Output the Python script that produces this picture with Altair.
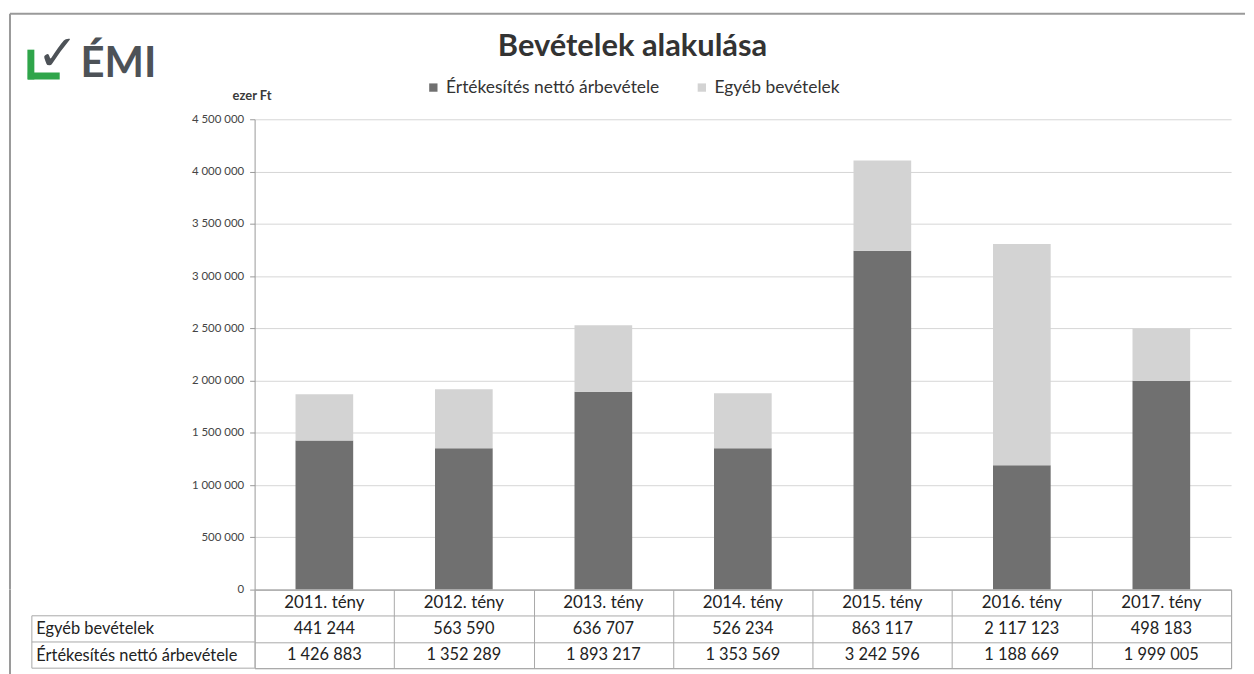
import altair as alt
import pandas as pd

# ---------------- data ----------------
years = ["2011. tény", "2012. tény", "2013. tény", "2014. tény",
         "2015. tény", "2016. tény", "2017. tény"]
egyeb = [441244, 563590, 636707, 526234, 863117, 2117123, 498183]
ertek = [1426883, 1352289, 1893217, 1353569, 3242596, 1188669, 1999005]
series = ["Értékesítés nettó árbevétele", "Egyéb bevételek"]
y_ticks = [0, 500000, 1000000, 1500000, 2000000, 2500000,
           3000000, 3500000, 4000000, 4500000]
unit_label = "ezer Ft"
chart_title = "Bevételek alakulása"
logo_word = "ÉMI"

FONT = "Lato"
DARK = "#707070"
LIGHT = "#d3d3d3"
LINE = "#a8a8a8"
FRAME = "#9a9a9a"
W, H, TH = 982, 473, 79

# long table for the stacked bars
bar_rows = []
for i, yr in enumerate(years):
    bar_rows.append({"year": yr, "series": series[0], "value": ertek[i], "ord": 0})
    bar_rows.append({"year": yr, "series": series[1], "value": egyeb[i], "ord": 1})
bars_df = pd.DataFrame(bar_rows)


def fmt(v):
    return f"{v:,}".replace(",", " ")


row_order = ["hdr", series[1], series[0]]
tab_rows = []
for i, yr in enumerate(years):
    tab_rows.append({"year": yr, "row": "hdr", "txt": yr, "hdr": 1})
    tab_rows.append({"year": yr, "row": series[1], "txt": fmt(egyeb[i]), "hdr": 0})
    tab_rows.append({"year": yr, "row": series[0], "txt": fmt(ertek[i]), "hdr": 0})
tab_df = pd.DataFrame(tab_rows)

one = pd.DataFrame({"k": [0]})

# ---------------- top chart ----------------
bars = alt.Chart(bars_df).mark_bar(size=58).encode(
    x=alt.X("year:N", sort=years, axis=None,
            scale=alt.Scale(paddingInner=0, paddingOuter=0)),
    y=alt.Y("value:Q", stack="zero",
            scale=alt.Scale(domain=[0, 4500000], nice=False),
            axis=alt.Axis(values=y_ticks, format=",d", title=unit_label,
                          titleAngle=0, titleAlign="center", titleX=-3, titleY=-17,
                          titleFont=FONT, titleFontSize=13, titleFontWeight="bold",
                          titleColor="#3a3a3a", labelFont=FONT, labelFontSize=11.5,
                          labelColor="#444", labelPadding=6, tickSize=5,
                          tickColor="#999", domainColor="#999", gridColor="#d6d6d6")),
    color=alt.Color("series:N", sort=series,
                    scale=alt.Scale(domain=series, range=[DARK, LIGHT]),
                    legend=alt.Legend(orient="none", legendX=171, legendY=-41,
                                      direction="horizontal", title=None,
                                      symbolType="square", symbolSize=70,
                                      labelFont=FONT, labelFontSize=17.5, labelLimit=0,
                                      labelColor="#333", columnPadding=33,
                                      symbolStrokeWidth=0)),
    order=alt.Order("ord:Q"),
)

title_mark = alt.Chart(one).mark_text(
    text=chart_title, font=FONT, fontSize=31, fontWeight="bold", color="#333",
    align="center", baseline="middle").encode(x=alt.value(380), y=alt.value(-73))

# logo: green corner bracket, dark check mark, word mark
logo_Lv = alt.Chart(one).mark_rule(color="#2fa54a", strokeWidth=7).encode(
    x=alt.value(-225), y=alt.value(-70), y2=alt.value(-40))
logo_Lh = alt.Chart(one).mark_rule(color="#2fa54a", strokeWidth=7).encode(
    x=alt.value(-228), x2=alt.value(-196), y=alt.value(-43.5))
logo_check = alt.Chart(one).mark_text(
    text="✓", font="DejaVu Sans", fontSize=50, fontWeight="bold", color="#4d5257",
    align="left", baseline="alphabetic").encode(x=alt.value(-219), y=alt.value(-50))
logo_text = alt.Chart(one).mark_text(
    text=logo_word, font=FONT, fontSize=42, fontWeight="bold", color="#4d5257",
    align="left", baseline="alphabetic").encode(x=alt.value(-175), y=alt.value(-43))

frame_top = alt.Chart(one).mark_rule(color=FRAME, strokeWidth=2).encode(
    x=alt.value(-246), x2=alt.value(996), y=alt.value(-106))
frame_left = alt.Chart(one).mark_rule(color=FRAME, strokeWidth=2).encode(
    x=alt.value(-246), y=alt.value(-106), y2=alt.value(H))

top = alt.layer(bars, title_mark, logo_Lv, logo_Lh, logo_check, logo_text,
                frame_top, frame_left).properties(
    width=W, height=H,
    view=alt.ViewBackground(strokeWidth=0),
)

# ---------------- data table ----------------
x_tab = alt.X("year:N", sort=years, scale=alt.Scale(paddingInner=0, paddingOuter=0),
              axis=alt.Axis(title=None, labels=False, ticks=False, domain=False,
                            grid=True, tickBand="extent", gridColor=LINE))
y_axis = alt.Axis(title=None, grid=True, tickBand="extent", gridColor=LINE,
                  ticks=False, labelAlign="left", labelPadding=220, labelLimit=0,
                  labelExpr="datum.value === 'hdr' ? '' : datum.value",
                  labelFont=FONT, labelFontSize=16.5, labelColor="#222",
                  domain=False)

cells = alt.Chart(tab_df).mark_text(font=FONT, color="#222").encode(
    x=x_tab,
    y=alt.Y("row:N", sort=row_order, scale=alt.Scale(paddingInner=0, paddingOuter=0),
            axis=y_axis),
    text="txt:N",
    size=alt.condition("datum.hdr == 1", alt.value(17), alt.value(16.5)),
)

lab_rows = pd.DataFrame({"row": [series[1], series[0]]})
lab_last = pd.DataFrame({"row": [series[0]]})
lab_top = alt.Chart(lab_rows).mark_rule(color=LINE).encode(
    y=alt.Y("row:N", sort=row_order, bandPosition=0, axis=y_axis),
    x=alt.value(-224), x2=alt.value(0))
lab_bot = alt.Chart(lab_last).mark_rule(color=LINE).encode(
    y=alt.Y("row:N", sort=row_order, bandPosition=1, axis=y_axis),
    x=alt.value(-224), x2=alt.value(0))
tab_left = alt.Chart(one).mark_rule(color=LINE).encode(
    x=alt.value(-224), y=alt.value(TH / 3), y2=alt.value(TH))
tab_frame = alt.Chart(one).mark_rule(color=FRAME, strokeWidth=2).encode(
    x=alt.value(-246), y=alt.value(0), y2=alt.value(86))

table = alt.layer(cells, lab_top, lab_bot, tab_left, tab_frame).properties(
    width=W, height=TH,
    view=alt.ViewBackground(stroke=LINE, strokeWidth=1),
)

chart = alt.vconcat(top, table, spacing=0, bounds="flush").properties(
    padding={"left": 0, "top": 3, "right": 0, "bottom": 0}
).configure(
    locale={"number": {"decimal": ",", "thousands": " ", "grouping": [3],
                       "currency": ["", ""]}}
).configure_view(strokeWidth=0)

chart.save("out.html", embed_options={"renderer": "svg", "actions": False})
